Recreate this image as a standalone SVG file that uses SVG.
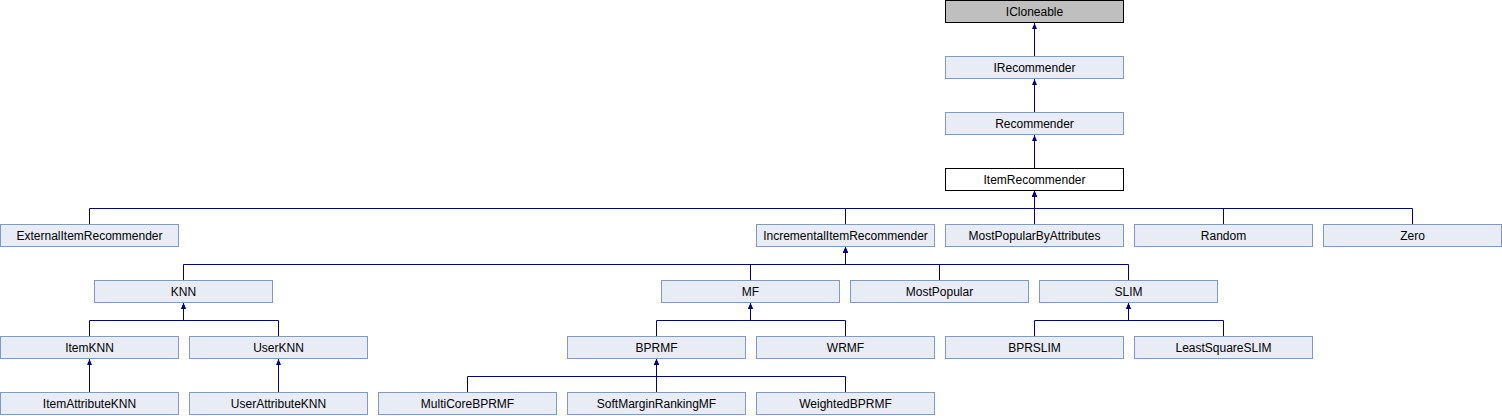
<svg xmlns="http://www.w3.org/2000/svg" width="1502" height="416" viewBox="0 0 1502 416">
<style>
.n rect{fill:#e8ecf5;stroke:#7d99cf;stroke-width:1}
.n text{font-family:"Liberation Sans",Arial,sans-serif;font-size:12px;fill:#000;text-anchor:middle}
#ICloneable rect{fill:#bfbfbf;stroke:#000}
#ItemRecommender rect{fill:#fff;stroke:#000}
#edges path{fill:none;stroke:#000080;stroke-width:1;marker-end:url(#a)}
</style>
<defs>
<marker id="a" markerUnits="userSpaceOnUse" viewBox="0 0 6 5" refX="6" refY="2.5" markerWidth="6" markerHeight="5" orient="auto">
<path d="M0,0L6,2.5L0,5z" fill="#000080"/>
</marker>
</defs>
<rect width="1502" height="416" fill="#fff"/>
<g id="edges">
<path d="M1034.5,56.5V23"/>
<path d="M1034.5,112.5V79"/>
<path d="M1034.5,168.5V135"/>
<path d="M89.5,224.5V208.5H1034.5V191"/>
<path d="M845.5,224.5V208.5H1034.5V191"/>
<path d="M1034.5,224.5V191"/>
<path d="M1223.5,224.5V208.5H1034.5V191"/>
<path d="M1412.5,224.5V208.5H1034.5V191"/>
<path d="M183.5,280.5V264.5H845.5V247"/>
<path d="M750.5,280.5V264.5H845.5V247"/>
<path d="M939.5,280.5V264.5H845.5V247"/>
<path d="M1128.5,280.5V264.5H845.5V247"/>
<path d="M89.5,336.5V320.5H183.5V303"/>
<path d="M278.5,336.5V320.5H183.5V303"/>
<path d="M656.5,336.5V320.5H750.5V303"/>
<path d="M845.5,336.5V320.5H750.5V303"/>
<path d="M1034.5,336.5V320.5H1128.5V303"/>
<path d="M1223.5,336.5V320.5H1128.5V303"/>
<path d="M89.5,392.5V359"/>
<path d="M278.5,392.5V359"/>
<path d="M467.5,392.5V376.5H656.5V359"/>
<path d="M656.5,392.5V359"/>
<path d="M845.5,392.5V376.5H656.5V359"/>
</g>
<g id="ICloneable" class="n"><rect x="945.5" y="0.5" width="178" height="22"/><text x="1034.5" y="15.5">ICloneable</text></g>
<g id="IRecommender" class="n"><rect x="945.5" y="56.5" width="178" height="22"/><text x="1034.5" y="71.5">IRecommender</text></g>
<g id="Recommender" class="n"><rect x="945.5" y="112.5" width="178" height="22"/><text x="1034.5" y="127.5">Recommender</text></g>
<g id="ItemRecommender" class="n"><rect x="945.5" y="168.5" width="178" height="22"/><text x="1034.5" y="183.5">ItemRecommender</text></g>
<g id="ExternalItemRecommender" class="n"><rect x="0.5" y="224.5" width="178" height="22"/><text x="89.5" y="239.5">ExternalItemRecommender</text></g>
<g id="IncrementalItemRecommender" class="n"><rect x="756.5" y="224.5" width="178" height="22"/><text x="845.5" y="239.5">IncrementalItemRecommender</text></g>
<g id="MostPopularByAttributes" class="n"><rect x="945.5" y="224.5" width="178" height="22"/><text x="1034.5" y="239.5">MostPopularByAttributes</text></g>
<g id="Random" class="n"><rect x="1134.5" y="224.5" width="178" height="22"/><text x="1223.5" y="239.5">Random</text></g>
<g id="Zero" class="n"><rect x="1323.5" y="224.5" width="178" height="22"/><text x="1412.5" y="239.5">Zero</text></g>
<g id="KNN" class="n"><rect x="94.5" y="280.5" width="178" height="22"/><text x="183.5" y="295.5">KNN</text></g>
<g id="MF" class="n"><rect x="661.5" y="280.5" width="178" height="22"/><text x="750.5" y="295.5">MF</text></g>
<g id="MostPopular" class="n"><rect x="850.5" y="280.5" width="178" height="22"/><text x="939.5" y="295.5">MostPopular</text></g>
<g id="SLIM" class="n"><rect x="1039.5" y="280.5" width="178" height="22"/><text x="1128.5" y="295.5">SLIM</text></g>
<g id="ItemKNN" class="n"><rect x="0.5" y="336.5" width="178" height="22"/><text x="89.5" y="351.5">ItemKNN</text></g>
<g id="UserKNN" class="n"><rect x="189.5" y="336.5" width="178" height="22"/><text x="278.5" y="351.5">UserKNN</text></g>
<g id="BPRMF" class="n"><rect x="567.5" y="336.5" width="178" height="22"/><text x="656.5" y="351.5">BPRMF</text></g>
<g id="WRMF" class="n"><rect x="756.5" y="336.5" width="178" height="22"/><text x="845.5" y="351.5">WRMF</text></g>
<g id="BPRSLIM" class="n"><rect x="945.5" y="336.5" width="178" height="22"/><text x="1034.5" y="351.5">BPRSLIM</text></g>
<g id="LeastSquareSLIM" class="n"><rect x="1134.5" y="336.5" width="178" height="22"/><text x="1223.5" y="351.5">LeastSquareSLIM</text></g>
<g id="ItemAttributeKNN" class="n"><rect x="0.5" y="392.5" width="178" height="22"/><text x="89.5" y="407.5">ItemAttributeKNN</text></g>
<g id="UserAttributeKNN" class="n"><rect x="189.5" y="392.5" width="178" height="22"/><text x="278.5" y="407.5">UserAttributeKNN</text></g>
<g id="MultiCoreBPRMF" class="n"><rect x="378.5" y="392.5" width="178" height="22"/><text x="467.5" y="407.5">MultiCoreBPRMF</text></g>
<g id="SoftMarginRankingMF" class="n"><rect x="567.5" y="392.5" width="178" height="22"/><text x="656.5" y="407.5">SoftMarginRankingMF</text></g>
<g id="WeightedBPRMF" class="n"><rect x="756.5" y="392.5" width="178" height="22"/><text x="845.5" y="407.5">WeightedBPRMF</text></g>
</svg>
